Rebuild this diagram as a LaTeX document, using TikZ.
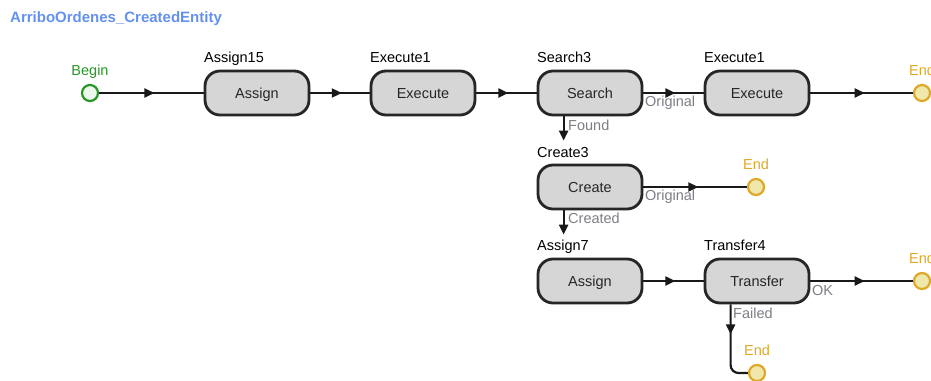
\documentclass[tikz,border=0pt]{standalone}
\usepackage{fontspec}
\setmainfont{Liberation Sans}
\usetikzlibrary{arrows.meta,decorations.markings}
\definecolor{flowgray}{RGB}{214,214,214}
\definecolor{flowtitle}{RGB}{100,145,240}
\definecolor{flowgreen}{RGB}{40,150,40}
\definecolor{flowgreenfill}{RGB}{236,248,236}
\definecolor{flowgold}{RGB}{222,168,40}
\definecolor{flowgoldfill}{RGB}{240,232,170}
\definecolor{flowlabel}{RGB}{125,125,135}

\begin{document}
\begin{tikzpicture}[
  x=1pt, y=-1pt,
  every node/.style={font=\fontsize{14.5}{17}\selectfont},
  stepbox/.style={draw=black!85,line width=2.8pt,rounded corners=15pt,
                  minimum width=104pt,minimum height=44pt,inner sep=0pt,
                  text height=10.5pt,text depth=0pt,
                  fill=flowgray,text=black!85},
  steplbl/.style={anchor=base west,inner sep=0pt,text=black},
  beginpt/.style={circle,draw=flowgreen,line width=2.2pt,fill=flowgreenfill,
                  minimum size=16pt,inner sep=0pt},
  endpt/.style={circle,draw=flowgold,line width=2.2pt,fill=flowgoldfill,
                minimum size=16pt,inner sep=0pt},
  ptlbl/.style={anchor=base,inner sep=0pt},
  exitlbl/.style={anchor=base west,inner sep=0pt,text=flowlabel},
  conn/.style={line width=2.2pt,draw=black!90},
  midarrow/.style={postaction={decorate},decoration={markings,
    mark=at position #1 with {\arrow{Triangle[length=10pt,width=9pt]}}}},
  midarrow/.default=0.53,
  arrowend/.style={-{Triangle[length=10pt,width=9pt]}},
]
  \useasboundingbox (0,0) rectangle (931,380);

  % Title
  \node[anchor=west,inner sep=0pt,text=flowtitle,
        font=\bfseries\fontsize{15}{18}\selectfont] (title) at (10,19)
    {ArriboOrdenes\_CreatedEntity};

  % Start and end points
  \node[beginpt] (begin) at (90,93) {};
  \node[ptlbl,text=flowgreen] (beginlbl) at (90,75) {Begin};
  \node[endpt] (end1) at (922,93) {};
  \node[ptlbl,text=flowgold] (end1lbl) at (922,75) {End};
  \node[endpt] (end2) at (756,187) {};
  \node[ptlbl,text=flowgold] (end2lbl) at (756,169) {End};
  \node[endpt] (end3) at (922,281) {};
  \node[ptlbl,text=flowgold] (end3lbl) at (922,263) {End};
  \node[endpt] (end4) at (757,373) {};
  \node[ptlbl,text=flowgold] (end4lbl) at (757,355) {End};

  % Steps
  \node[stepbox] (assign15) at (257,93) {Assign};
  \node[steplbl] (assign15lbl) at (204,62) {Assign15};
  \node[stepbox] (execute1) at (423,93) {Execute};
  \node[steplbl] (execute1lbl) at (370,62) {Execute1};
  \node[stepbox] (search3) at (590,93) {Search};
  \node[steplbl] (search3lbl) at (537,62) {Search3};
  \node[stepbox] (execute1b) at (757,93) {Execute};
  \node[steplbl] (execute1blbl) at (704,62) {Execute1};
  \node[stepbox] (create3) at (590,187) {Create};
  \node[steplbl] (create3lbl) at (537,157) {Create3};
  \node[stepbox] (assign7) at (590,281) {Assign};
  \node[steplbl] (assign7lbl) at (537,250) {Assign7};
  \node[stepbox] (transfer4) at (757,281) {Transfer};
  \node[steplbl] (transfer4lbl) at (704,250) {Transfer4};

  % Connectors
  \draw[conn,midarrow] (begin) -- (assign15);
  \draw[conn,midarrow] (assign15) -- (execute1);
  \draw[conn,midarrow] (execute1) -- (search3);
  \draw[conn,midarrow] (search3) -- (execute1b);
  \draw[conn,midarrow] (execute1b) -- (end1);
  \draw[conn,arrowend] ([xshift=27pt]search3.south west)
    -- ([xshift=27pt,yshift=23pt]create3.north west);
  \draw[conn,midarrow] (create3) -- (end2);
  \draw[conn,arrowend] ([xshift=27pt]create3.south west)
    -- ([xshift=27pt,yshift=23pt]assign7.north west);
  \draw[conn,midarrow] (assign7) -- (transfer4);
  \draw[conn,midarrow] (transfer4) -- (end3);
  \draw[conn,midarrow=30pt,rounded corners=8pt]
    ([xshift=27pt]transfer4.south west) |- (end4);

  % Exit labels
  \node[exitlbl] (origlbl1) at (645,106) {Original};
  \node[exitlbl] (foundlbl) at (568,130) {Found};
  \node[exitlbl] (origlbl2) at (645,200) {Original};
  \node[exitlbl] (createdlbl) at (568,223) {Created};
  \node[exitlbl] (oklbl) at (812,295) {OK};
  \node[exitlbl] (failedlbl) at (733,318) {Failed};
\end{tikzpicture}
\end{document}
